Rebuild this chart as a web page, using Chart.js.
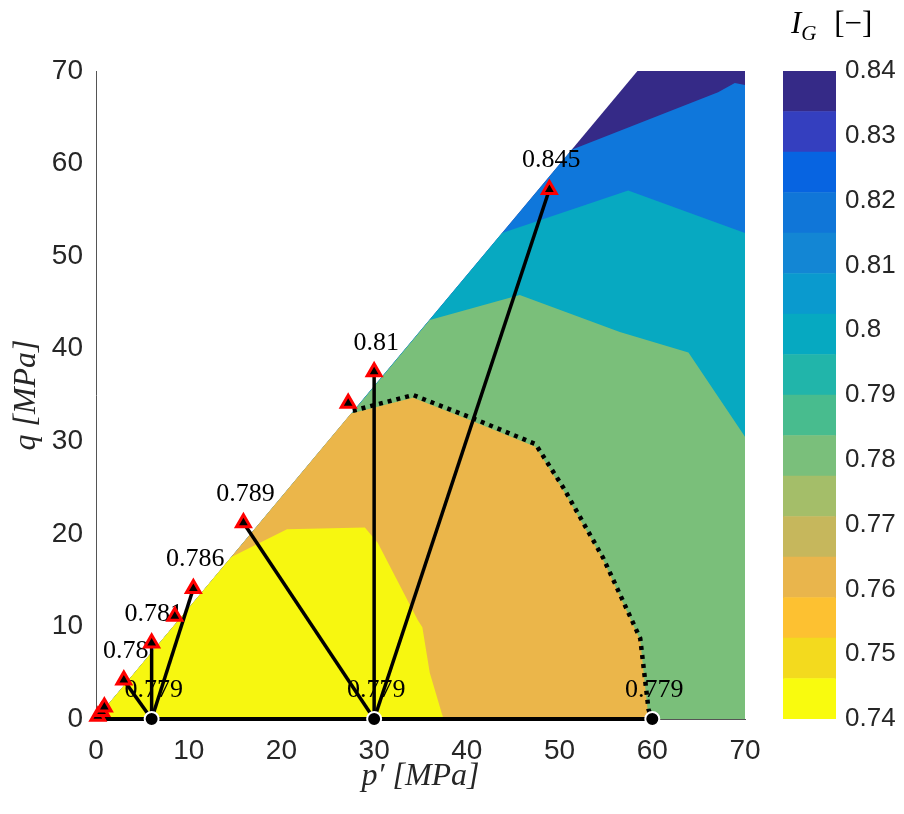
<!DOCTYPE html>
<html>
<head>
<meta charset="utf-8">
<script src="https://cdn.jsdelivr.net/npm/chart.js@4.4.0/dist/chart.umd.min.js"></script>
<style>
html, body { margin: 0; padding: 0; background: #fff; }
#wrap { position: relative; width: 904px; height: 814px; }
canvas { position: absolute; left: 0; top: 0; }
#cbTitle { position: absolute; left: 791px; top: 5px; font: italic 31px "Liberation Serif"; color: #000; white-space: nowrap; }
#cbTitle sub { font-size: 21px; }
#cbTitle span { font-style: normal; margin-left: 10px; }
</style>
</head>
<body>
<div id="wrap">
  <canvas id="main" width="904" height="814"></canvas>
  <canvas id="cbar" width="904" height="814"></canvas>
  <div id="cbTitle">I<sub>G</sub> <span>[&minus;]</span></div>
</div>
<script>
// contour bands, upper edge of each filled region (p', q)
var navyP = [0, 58.4, 70];
var navyQ = [0, 70, 70];
var blueP = [0, 51.3, 67.1, 68.9, 70];
var blueQ = [0, 61.5, 67.7, 68.7, 68.5];
var tealP = [0, 43.8, 57.4, 70];
var tealQ = [0, 52.5, 57.1, 52.5];
var greenP = [0, 36.0, 45.7, 56.5, 63.9, 70];
var greenQ = [0, 43.1, 45.8, 41.8, 39.6, 30.5];
var orangeP = [0, 27.5, 34.2, 40.3, 47.4, 50.4, 54.7, 58.7, 59.5, 59.8];
var orangeQ = [0, 33.0, 34.7, 32.3, 29.4, 24.7, 17.2, 8.5, 1.0, 0];
var yellowP = [0, 14.6, 20.6, 29.0, 30.4, 34.7, 35.2, 36.0, 37.3, 37.5];
var yellowQ = [0, 17.5, 20.5, 20.7, 19.0, 10.7, 9.9, 5.0, 0.6, 0];

// dotted contour
var dotP = [27.7, 34.2, 41.1, 47.4, 50.4, 54.7, 58.7, 59.6, 60];
var dotQ = [33.3, 35.0, 32.3, 29.7, 25.0, 17.4, 8.7, 1.0, 0];

// stress paths
var startP = [6, 6, 6, 30, 30, 30];
var endP = [3.0, 6.0, 10.5, 15.9, 30.0, 48.9];
var endQ = [4.2, 8.2, 14.1, 21.2, 37.5, 57.2];

// end points (triangles) and start points (circles)
var triP = [0.2, 0.6, 0.9, 3.0, 6.0, 8.5, 10.5, 15.9, 27.2, 30.0, 48.9];
var triQ = [0.3, 0.8, 1.3, 4.2, 8.2, 11.1, 14.1, 21.2, 34.1, 37.5, 57.2];
var circP = [6, 30, 60];
var circQ = [0, 0, 0];

// value labels
var labP = [3.0, 6.0, 10.5, 15.9, 30.0, 48.9, 6, 30, 60];
var labQ = [4.2, 8.2, 14.1, 21.2, 37.5, 57.2, 0, 0, 0];
var labText = ["0.78", "0.781", "0.786", "0.789", "0.81", "0.845", "0.779", "0.779", "0.779"];

// colorbar
var cbarTicks = [0.74, 0.75, 0.76, 0.77, 0.78, 0.79, 0.80, 0.81, 0.82, 0.83, 0.84];
var cbarColors = ['#f9fb0e', '#f3da1e', '#fdc131', '#e9b54c', '#c6b75c', '#a4be69', '#7abf7b', '#48bc8e',
                  '#21b5aa', '#06a9c1', '#0a9ace', '#1386d4', '#1076d8', '#0764e1', '#343fbf', '#352a87'];

function pts(xs, ys) {
  var out = [];
  for (var i = 0; i < xs.length; i++) out.push({x: xs[i], y: ys[i]});
  return out;
}

function band(id, xs, ys, color, ord) {
  return {
    id: id, data: pts(xs, ys), showLine: true, fill: 'origin',
    backgroundColor: color, borderWidth: 0, pointRadius: 0, order: ord
  };
}

var datasets = [
  band('navy', navyP, navyQ, '#352a87', 20),
  band('blue', blueP, blueQ, '#0f77db', 19),
  band('teal', tealP, tealQ, '#07a9c1', 18),
  band('green', greenP, greenQ, '#7abf7a', 17),
  band('orange', orangeP, orangeQ, '#ebb64a', 16),
  band('yellow', yellowP, yellowQ, '#f7f710', 15),
  {
    id: 'dots', data: pts(dotP, dotQ), showLine: true, borderColor: '#000', borderWidth: 4.5,
    borderDash: [4, 5], pointRadius: 0, fill: false, order: 10
  },
  {
    id: 'base', data: pts([0, 60], [0, 0]), showLine: true, borderColor: '#000', borderWidth: 4,
    pointRadius: 0, fill: false, order: 9, clip: false
  }
];

for (var i = 0; i < startP.length; i++) {
  datasets.push({
    id: 'path' + i, data: pts([startP[i], endP[i]], [0, endQ[i]]), showLine: true,
    borderColor: '#000', borderWidth: 3.5, pointRadius: 0, fill: false, order: 8
  });
}

datasets.push({
  id: 'circles', data: pts(circP, circQ), showLine: false, pointStyle: 'circle', pointRadius: 7,
  backgroundColor: '#000', borderColor: '#fff', borderWidth: 2, order: 3, clip: false
});
datasets.push({
  id: 'tri', data: pts(triP, triQ), showLine: false, pointStyle: 'triangle', pointRadius: 8,
  backgroundColor: '#000', borderColor: '#ff0000', borderWidth: 3, order: 2, clip: false
});

// write values just above the fills, under the lines
var valueLabels = {
  id: 'valueLabels',
  afterDatasetDraw: function(chart, args) {
    if (chart.data.datasets[args.index].id !== 'yellow') return;
    var ctx = chart.ctx;
    var xs = chart.scales.x, ys = chart.scales.y;
    ctx.save();
    ctx.font = '26px "Liberation Serif"';
    ctx.fillStyle = '#000';
    ctx.textAlign = 'center';
    ctx.textBaseline = 'middle';
    for (var k = 0; k < labText.length; k++) {
      ctx.fillText(labText[k], xs.getPixelForValue(labP[k]) + 2, ys.getPixelForValue(labQ[k]) - 29);
    }
    ctx.restore();
  }
};

var tickFont = {family: 'Liberation Sans', size: 28};
var titleFont = {family: 'Liberation Serif', size: 32, style: 'italic'};

new Chart(document.getElementById('main'), {
  type: 'scatter',
  data: {datasets: datasets},
  options: {
    responsive: false,
    animation: false,
    layout: {padding: {left: 0, top: 71, right: 159, bottom: 0}},
    plugins: {legend: {display: false}, tooltip: {enabled: false}},
    scales: {
      x: {
        type: 'linear', min: 0, max: 70,
        ticks: {stepSize: 10, font: tickFont, color: '#262626', padding: 15},
        grid: {drawOnChartArea: false, drawTicks: false},
        border: {color: '#555', width: 1},
        title: {display: true, text: 'p\u2032 [MPa]', color: '#262626', font: titleFont,
                padding: {top: 0, bottom: 18}},
        afterFit: function(s) { s.height = 95; }
      },
      y: {
        type: 'linear', min: 0, max: 70,
        ticks: {stepSize: 10, font: tickFont, color: '#262626', padding: 13},
        grid: {drawOnChartArea: false, drawTicks: false},
        border: {color: '#555', width: 1},
        title: {display: true, text: 'q [MPa]', color: '#262626', font: titleFont,
                padding: {top: 7, bottom: 0}},
        afterFit: function(s) { s.width = 96; }
      }
    }
  },
  plugins: [valueLabels]
});

// colorbar as floating bars
var cbDatasets = [];
var step = 0.1 / cbarColors.length;
for (var j = 0; j < cbarColors.length; j++) {
  cbDatasets.push({
    data: [[0.74 + j * step, 0.74 + (j + 1) * step]],
    backgroundColor: cbarColors[j], borderWidth: 0,
    barPercentage: 1, categoryPercentage: 1
  });
}
cbDatasets.push({
  data: [[0.74, 0.84]], backgroundColor: 'rgba(0,0,0,0)', borderColor: '#7f7f7f',
  borderWidth: 1, borderSkipped: false, barPercentage: 1, categoryPercentage: 1
});

new Chart(document.getElementById('cbar'), {
  type: 'bar',
  data: {labels: ['I'], datasets: cbDatasets},
  options: {
    responsive: false,
    animation: false,
    layout: {padding: {left: 783, top: 71, right: 0, bottom: 95}},
    plugins: {legend: {display: false}, tooltip: {enabled: false}},
    scales: {
      x: {display: false, stacked: true},
      y: {
        position: 'right', min: 0.74, max: 0.84,
        afterBuildTicks: function(s) { s.ticks = cbarTicks.map(function(v) { return {value: v}; }); },
        ticks: {font: {family: 'Liberation Sans', size: 26}, color: '#262626', padding: 9,
                callback: function(v) { return String(parseFloat(v.toFixed(2))); }},
        grid: {drawOnChartArea: false, drawTicks: false},
        border: {display: false},
        afterFit: function(s) { s.width = 68; }
      }
    }
  }
});
</script>
</body>
</html>
